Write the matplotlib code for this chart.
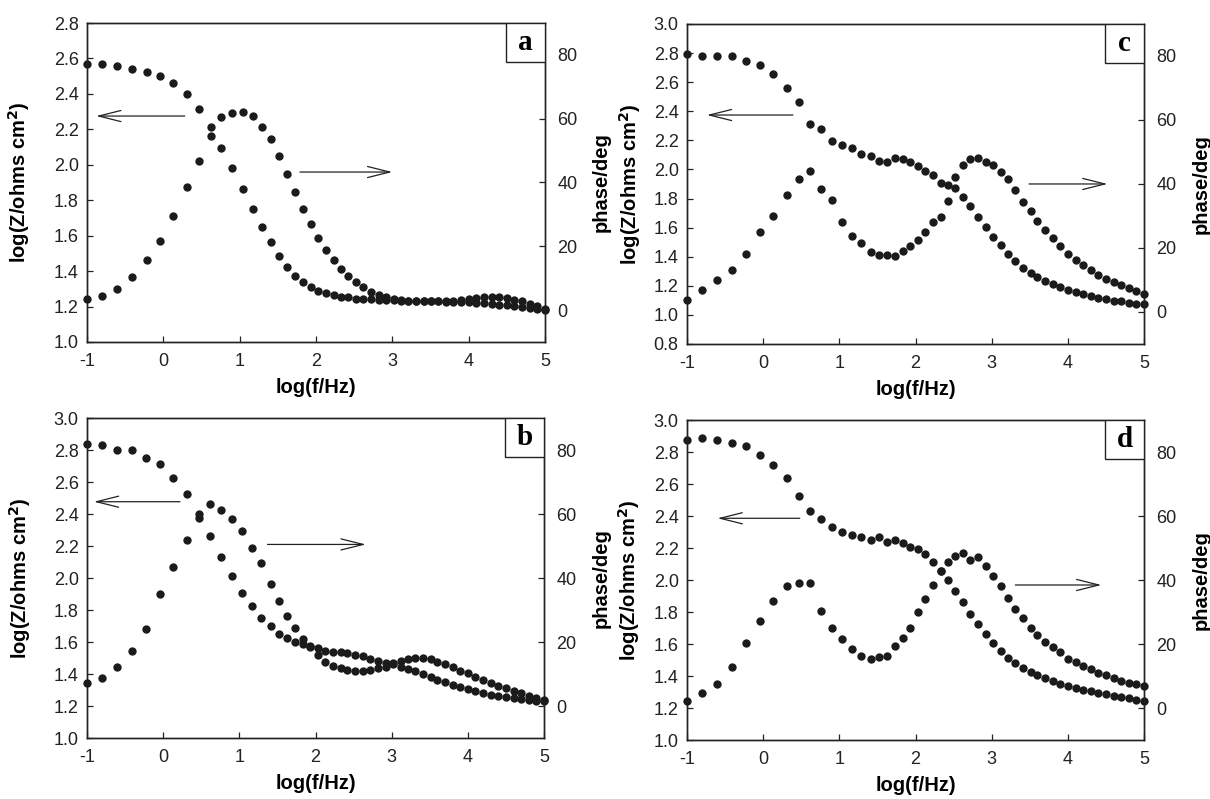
import matplotlib

matplotlib.use("Agg")
import matplotlib.pyplot as plt
from matplotlib.patches import Rectangle
from matplotlib.ticker import FormatStrFormatter

plt.rcParams["font.family"] = ["Liberation Sans", "DejaVu Sans"]
plt.rcParams["axes.unicode_minus"] = False

# measurement frequencies, log10(f / Hz)
LOG_F = [
    -1.00, -0.80, -0.61, -0.41, -0.22, -0.04, 0.13, 0.31, 0.47, 0.62,
    0.76, 0.90, 1.04, 1.17, 1.29, 1.41, 1.52, 1.62, 1.73, 1.83,
    1.93, 2.03, 2.13, 2.23, 2.33, 2.42, 2.52, 2.62, 2.72, 2.82,
    2.92, 3.02, 3.12, 3.21, 3.31, 3.41, 3.51, 3.60, 3.70, 3.80,
    3.90, 4.00, 4.10, 4.20, 4.30, 4.40, 4.50, 4.60, 4.70, 4.80,
    4.90, 5.00,
]

A_LOGZ = [
    2.571, 2.570, 2.556, 2.539, 2.522, 2.501, 2.464, 2.398, 2.316, 2.214,
    2.096, 1.981, 1.861, 1.752, 1.651, 1.564, 1.487, 1.425, 1.375, 1.337,
    1.313, 1.290, 1.275, 1.264, 1.256, 1.251, 1.245, 1.243, 1.240, 1.238,
    1.236, 1.235, 1.234, 1.233, 1.232, 1.231, 1.230, 1.229, 1.228, 1.227,
    1.226, 1.224, 1.222, 1.219, 1.215, 1.211, 1.207, 1.202, 1.198, 1.193,
    1.188, 1.183,
]
A_PHASE = [
    3.5, 4.5, 6.5, 10.3, 15.6, 21.5, 29.4, 38.6, 46.8, 54.5,
    60.5, 61.7, 62.0, 60.8, 57.4, 53.5, 48.2, 42.6, 37.1, 31.7,
    26.9, 22.5, 18.7, 15.6, 12.9, 10.6, 8.8, 7.2, 5.8, 4.8,
    4.2, 3.5, 3.2, 3.0, 2.9, 2.8, 2.8, 2.8, 2.9, 3.0,
    3.2, 3.5, 3.8, 4.1, 4.2, 4.1, 3.8, 3.3, 2.7, 2.0,
    1.2, 0.4,
]

B_LOGZ = [
    2.838, 2.829, 2.802, 2.802, 2.752, 2.715, 2.625, 2.527, 2.377, 2.265,
    2.133, 2.010, 1.908, 1.825, 1.752, 1.698, 1.650, 1.627, 1.602, 1.587,
    1.574, 1.560, 1.544, 1.540, 1.535, 1.529, 1.521, 1.510, 1.496, 1.481,
    1.471, 1.460, 1.447, 1.432, 1.418, 1.400, 1.383, 1.365, 1.348, 1.333,
    1.318, 1.305, 1.293, 1.282, 1.272, 1.263, 1.255, 1.248, 1.242, 1.237,
    1.233, 1.230,
]
B_PHASE = [
    7.1, 8.9, 12.1, 17.3, 24.2, 35.1, 43.3, 51.8, 60.1, 63.0,
    61.3, 58.6, 54.8, 49.5, 44.6, 38.2, 32.9, 28.0, 24.3, 21.1,
    18.6, 16.1, 13.9, 12.6, 11.8, 11.3, 10.9, 10.9, 11.3, 11.8,
    12.3, 13.3, 14.1, 14.6, 15.1, 14.9, 14.6, 13.9, 13.0, 12.1,
    11.1, 10.2, 9.2, 8.1, 7.3, 6.4, 5.5, 4.7, 4.0, 3.2,
    2.6, 1.9,
]

C_LOGZ = [
    2.794, 2.782, 2.782, 2.782, 2.748, 2.718, 2.659, 2.558, 2.462, 2.315,
    2.276, 2.198, 2.168, 2.148, 2.109, 2.093, 2.056, 2.054, 2.077, 2.072,
    2.054, 2.022, 1.992, 1.960, 1.905, 1.890, 1.870, 1.813, 1.749, 1.671,
    1.607, 1.538, 1.477, 1.417, 1.371, 1.325, 1.286, 1.259, 1.234, 1.211,
    1.192, 1.172, 1.158, 1.144, 1.131, 1.119, 1.108, 1.096, 1.092, 1.085,
    1.078, 1.073,
]
C_PHASE = [
    3.6, 6.8, 10.1, 13.0, 18.1, 24.9, 30.1, 36.6, 41.6, 44.2,
    38.5, 35.0, 28.2, 23.6, 21.5, 18.7, 17.9, 17.9, 17.6, 19.0,
    20.5, 22.6, 25.0, 28.0, 29.6, 34.8, 42.3, 45.8, 47.7, 48.1,
    46.8, 46.0, 43.6, 41.5, 38.2, 34.5, 31.6, 28.5, 25.7, 23.0,
    20.5, 18.2, 16.3, 14.6, 13.0, 11.6, 10.4, 9.4, 8.3, 7.5,
    6.4, 5.6,
]

D_LOGZ = [
    2.877, 2.888, 2.873, 2.856, 2.840, 2.781, 2.717, 2.635, 2.523, 2.429,
    2.381, 2.333, 2.302, 2.281, 2.267, 2.252, 2.269, 2.235, 2.248, 2.231,
    2.208, 2.196, 2.160, 2.115, 2.056, 2.000, 1.929, 1.860, 1.788, 1.725,
    1.663, 1.606, 1.558, 1.515, 1.481, 1.450, 1.427, 1.406, 1.388, 1.369,
    1.352, 1.340, 1.327, 1.315, 1.304, 1.294, 1.285, 1.277, 1.267, 1.260,
    1.252, 1.246,
]
D_PHASE = [
    2.1, 4.8, 7.4, 12.9, 20.4, 27.1, 33.4, 38.0, 39.0, 39.2,
    30.3, 24.9, 21.6, 18.4, 16.4, 15.2, 15.9, 16.4, 19.3, 21.9,
    24.9, 29.9, 34.2, 38.5, 42.9, 45.5, 47.6, 48.3, 46.4, 47.3,
    44.5, 41.4, 38.0, 34.4, 30.9, 28.0, 25.1, 22.8, 20.7, 19.2,
    17.4, 15.3, 14.3, 13.2, 12.2, 11.1, 10.3, 9.4, 8.5, 7.9,
    7.5, 6.8,
]

DOT = "#1b1b1b"
INK = "#222222"
FIG_W, FIG_H = 1210, 799


def draw_panel(fig, rect, logz, phase, z_lim, letter, left_arrow, right_arrow,
               ylabel_x, y2label_x):
    ax = fig.add_axes(rect)
    ax2 = ax.twinx()

    ax.plot(LOG_F, logz, "o", ms=6.0, color=DOT, mec="none", clip_on=False, zorder=3)
    ax2.plot(LOG_F, phase, "o", ms=6.0, color=DOT, mec="none", clip_on=False, zorder=3)

    ax.set_xlim(-1, 5)
    ax.set_xticks(range(-1, 6))
    ax.set_ylim(*z_lim)
    n_ticks = int(round((z_lim[1] - z_lim[0]) / 0.2)) + 1
    ax.set_yticks([round(z_lim[0] + 0.2 * i, 1) for i in range(n_ticks)])
    ax.yaxis.set_major_formatter(FormatStrFormatter("%.1f"))
    ax2.set_ylim(-10, 90)
    ax2.set_yticks([0, 20, 40, 60, 80])

    for a in (ax, ax2):
        for sp in a.spines.values():
            sp.set_linewidth(1.0)
            sp.set_color(INK)
        a.tick_params(direction="in", length=4, width=0.9, color=INK,
                      labelsize=13, labelcolor="#222222", pad=6)
    ax.tick_params(axis="x", pad=8)
    ax.tick_params(top=False, right=False)
    ax2.tick_params(left=False, pad=9)

    ax.set_xlabel("log(f/Hz)", fontsize=14.5, fontweight="bold")
    ax.xaxis.set_label_coords(0.5, -0.112)
    ax.set_ylabel("log(Z/ohms cm$^\\mathbf{2}$)", fontsize=14.5, fontweight="bold")
    ax.yaxis.set_label_coords(ylabel_x, 0.5)
    ax2.set_ylabel("phase/deg", fontsize=14.5, fontweight="bold")
    ax2.yaxis.set_label_coords(y2label_x, 0.5)

    arrow = dict(arrowstyle="->,head_length=1.6,head_width=0.4", lw=0.9,
                 color=INK, mutation_scale=10, shrinkA=0, shrinkB=0)
    (x0, x1, y) = left_arrow
    ax.annotate("", xy=(x1, y), xytext=(x0, y), arrowprops=arrow)
    (x0, x1, y) = right_arrow
    ax.annotate("", xy=(x1, y), xytext=(x0, y), arrowprops=arrow)

    # letter tag in the top-right corner
    bw = 39 / (rect[2] * FIG_W)
    bh = 39 / (rect[3] * FIG_H)
    ax2.add_patch(Rectangle((1 - bw, 1 - bh), bw, bh, transform=ax2.transAxes,
                            facecolor="white", edgecolor=INK, lw=1.0, zorder=6))
    ax2.text(1 - bw / 2, 1 - bh / 2, letter, transform=ax2.transAxes,
             ha="center", va="center", fontsize=21, fontweight="bold",
             family=["Liberation Serif", "DejaVu Serif"], zorder=7)
    return ax, ax2


fig = plt.figure(figsize=(FIG_W / 100, FIG_H / 100), dpi=100)

draw_panel(fig, [0.0719, 0.5720, 0.3785, 0.3992], A_LOGZ, A_PHASE, (1.0, 2.8), "a",
           (0.28, -0.88, 2.275), (1.79, 3.0, 1.959), -0.120, 1.103)
draw_panel(fig, [0.5678, 0.5695, 0.3777, 0.4005], C_LOGZ, C_PHASE, (0.8, 3.0), "c",
           (0.39, -0.74, 2.374), (3.49, 4.52, 1.90), -0.096, 1.105)
draw_panel(fig, [0.0719, 0.0763, 0.3777, 0.4005], B_LOGZ, B_PHASE, (1.0, 3.0), "b",
           (0.22, -0.91, 2.477), (1.37, 2.66, 2.21), -0.118, 1.105)
draw_panel(fig, [0.5678, 0.0738, 0.3777, 0.4005], D_LOGZ, D_PHASE, (1.0, 3.0), "d",
           (0.48, -0.60, 2.386), (3.31, 4.44, 1.969), -0.098, 1.105)

fig.savefig("out.png", dpi=100)
